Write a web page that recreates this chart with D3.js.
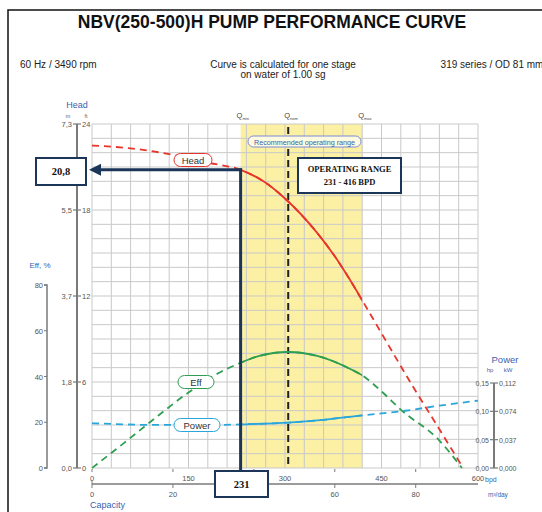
<!DOCTYPE html>
<html>
<head>
<meta charset="utf-8">
<title>NBV(250-500)H pump curve</title>
<script src="https://cdn.jsdelivr.net/npm/d3@7"></script>
<style>
  body { margin: 0; background: #fff; }
  text { font-family: "Liberation Sans", Arial, sans-serif; }
  text.serif { font-family: "Liberation Serif", "DejaVu Serif", serif; }
</style>
</head>
<body>
<svg id="chart"></svg>
<script>
// capacity in bpd, head in ft, efficiency in %, power in hp
const headQ   = [0, 60, 120, 180, 231, 270, 300, 350, 380, 400, 420, 450, 500, 540, 577]
const headFt  = [22.5, 22.3, 21.9, 21.3, 20.8, 19.9, 18.8, 16.4, 14.6, 13.2, 11.7, 9.4, 5.6, 2.7, 0]
const effQ    = [0, 50, 90, 150, 200, 231, 260, 305, 350, 400, 420, 450, 480, 540, 575]
const effPct  = [0, 11, 20, 33, 42, 46, 49, 50.7, 49, 43.5, 40.5, 33.5, 25.5, 12, 0]
const powQ    = [0, 100, 200, 231, 305, 360, 421, 480, 540, 600]
const powHp   = [0.079, 0.076, 0.076, 0.077, 0.080, 0.085, 0.093, 0.100, 0.110, 0.119]

const qMin = 231, qNom = 305, qMax = 420
const bpdTicks = [0, 150, 300, 450, 600]
const m3Ticks = [0, 20, 40, 60, 80]
const ftTicks = [0, 6, 12, 18, 24]
const mLabels = ["0,0", "1,8", "3,7", "5,5", "7,3"]
const effTicks = [0, 20, 40, 60, 80]
const hpTicks = [0, 0.05, 0.10, 0.15]
const hpLabels = ["0,00", "0,05", "0,10", "0,15"]
const kwLabels = ["0,000", "0,037", "0,074", "0,112"]
const pickHead = 20.8

const W = 542, H = 512
const svg = d3.select("#chart").attr("width", W).attr("height", H)

const x = d3.scaleLinear().domain([0, 600]).range([92, 478])
const xm = d3.scaleLinear().domain([0, 600 / 6.2898]).range([92, 478])
const yFt = d3.scaleLinear().domain([0, 24]).range([468, 124])
const yEff = d3.scaleLinear().domain([0, 80]).range([468, 285])
const yPow = d3.scaleLinear().domain([0, 0.15]).range([468, 383])

const RED = "#e8352b", GREEN = "#2f9e52", BLUE = "#2ba6dc", NAVY = "#1b3658", GREY = "#7a7a7a"
const LBLUE = "#3a5fb0"

// frame
svg.append("path").attr("d", "M8,512 V10 H542").attr("fill", "none").attr("stroke", "#111").attr("stroke-width", 1.5)

// titles
svg.append("text").attr("x", 272).attr("y", 28).attr("text-anchor", "middle")
  .attr("font-size", 17.5).attr("font-weight", "bold").attr("fill", "#111")
  .text("NBV(250-500)H PUMP PERFORMANCE CURVE")
svg.append("text").attr("x", 20).attr("y", 68).attr("font-size", 10).attr("fill", "#222").text("60 Hz / 3490 rpm")
svg.append("text").attr("x", 492).attr("y", 68).attr("text-anchor", "middle").attr("font-size", 10).attr("fill", "#222").text("319 series / OD 81 mm")
svg.append("text").attr("x", 283).attr("y", 68).attr("text-anchor", "middle").attr("font-size", 10).attr("fill", "#222").text("Curve is calculated for one stage")
svg.append("text").attr("x", 283).attr("y", 78).attr("text-anchor", "middle").attr("font-size", 10).attr("fill", "#222").text("on water of 1.00 sg")

// recommended range band
svg.append("rect").attr("x", x(qMin)).attr("y", yFt(24)).attr("width", x(qMax) - x(qMin))
  .attr("height", yFt(0) - yFt(24)).attr("fill", "#fbf0a4")

// grid
const grid = svg.append("g").attr("stroke", "#c9c9c9").attr("stroke-width", 1)
grid.selectAll("line.v").data(d3.range(0, 601, 30)).enter().append("line")
  .attr("x1", d => x(d)).attr("x2", d => x(d)).attr("y1", yFt(24)).attr("y2", yFt(0))
grid.selectAll("line.h").data(d3.range(0, 25, 1)).enter().append("line")
  .attr("x1", x(0)).attr("x2", x(600)).attr("y1", d => yFt(d)).attr("y2", d => yFt(d))

// Q labels
const qs = [[qMin, "min"], [qNom, "nom"], [qMax, "max"]]
qs.forEach(([q, sub]) => {
  const t = svg.append("text").attr("x", x(q) - 4).attr("y", 118).attr("font-size", 7.5).attr("fill", "#444")
  t.append("tspan").text("Q")
  t.append("tspan").attr("font-size", 4).attr("dy", 1.5).text(sub)
})

// nominal flow dashed line
svg.append("line").attr("x1", x(qNom)).attr("x2", x(qNom)).attr("y1", 127).attr("y2", yFt(0))
  .attr("stroke", "#222").attr("stroke-width", 2).attr("stroke-dasharray", "7,4")

// recommended operating range label
svg.append("rect").attr("x", 248).attr("y", 136).attr("width", 113).attr("height", 11).attr("rx", 5.5)
  .attr("fill", "#fffbe0").attr("stroke", "#7d8ad8").attr("stroke-width", 1)
svg.append("text").attr("x", 304.5).attr("y", 144.5).attr("text-anchor", "middle").attr("font-size", 7.2)
  .attr("fill", LBLUE).text("Recommended operating range")

// curves: dashed everywhere, solid inside the range
const clip = svg.append("clipPath").attr("id", "range")
clip.append("rect").attr("x", x(qMin)).attr("y", 0).attr("width", x(qMax) - x(qMin)).attr("height", H)

function curve(qArr, vArr, yScale, color) {
  const pts = qArr.map((q, i) => [x(q), yScale(vArr[i])])
  const line = d3.line().curve(d3.curveMonotoneX)
  svg.append("path").attr("d", line(pts)).attr("fill", "none").attr("stroke", color)
    .attr("stroke-width", 1.8).attr("stroke-dasharray", "7,5")
  svg.append("path").attr("d", line(pts)).attr("fill", "none").attr("stroke", color)
    .attr("stroke-width", 1.8).attr("clip-path", "url(#range)")
}
curve(powQ, powHp, yPow, BLUE)
curve(effQ, effPct, yEff, GREEN)
curve(headQ, headFt, yFt, RED)

// curve labels
function tag(cx, cy, w, label, color) {
  svg.append("rect").attr("x", cx - w / 2).attr("y", cy - 6.5).attr("width", w).attr("height", 13).attr("rx", 6.5)
    .attr("fill", "#fff").attr("stroke", color).attr("stroke-width", 1)
  svg.append("text").attr("x", cx).attr("y", cy + 3.5).attr("text-anchor", "middle").attr("font-size", 9.5)
    .attr("fill", "#333").text(label)
}
tag(193, 160, 38, "Head", RED)
tag(196, 382, 36, "Eff", GREEN)
tag(197, 425, 46, "Power", BLUE)

// head axis (m / ft)
const ax = 77
svg.append("line").attr("x1", ax).attr("x2", ax).attr("y1", yFt(24)).attr("y2", yFt(0)).attr("stroke", GREY).attr("stroke-width", 2)
ftTicks.forEach((t, i) => {
  svg.append("line").attr("x1", ax - 4).attr("x2", ax + 4).attr("y1", yFt(t)).attr("y2", yFt(t)).attr("stroke", GREY).attr("stroke-width", 1.2)
  svg.append("text").attr("x", ax - 5).attr("y", yFt(t) + 3).attr("text-anchor", "end").attr("font-size", 7.5).attr("fill", "#555").text(mLabels[i])
  svg.append("text").attr("x", ax + 5).attr("y", yFt(t) + 3).attr("font-size", 7.5).attr("fill", "#555").text(t)
})
svg.append("text").attr("x", ax).attr("y", 108).attr("text-anchor", "middle").attr("font-size", 9).attr("fill", LBLUE).text("Head")
svg.append("text").attr("x", ax - 9).attr("y", 118).attr("text-anchor", "middle").attr("font-size", 5.5).attr("fill", "#666").text("m")
svg.append("text").attr("x", ax + 9).attr("y", 118).attr("text-anchor", "middle").attr("font-size", 5.5).attr("fill", "#666").text("ft")

// efficiency axis
const ex = 47
svg.append("path").attr("d", `M${ex - 3},${yEff(80)} H${ex} V${yEff(0)} H${ex - 3}`)
  .attr("fill", "none").attr("stroke", GREY).attr("stroke-width", 1.5)
effTicks.forEach(t => {
  svg.append("line").attr("x1", ex - 3).attr("x2", ex).attr("y1", yEff(t)).attr("y2", yEff(t)).attr("stroke", GREY)
  svg.append("text").attr("x", ex - 4).attr("y", yEff(t) + 3).attr("text-anchor", "end").attr("font-size", 7.5).attr("fill", "#555").text(t)
})
svg.append("text").attr("x", 40).attr("y", 268).attr("text-anchor", "middle").attr("font-size", 8).attr("fill", LBLUE).text("Eff, %")

// power axis
const px = 494
svg.append("line").attr("x1", px).attr("x2", px).attr("y1", yPow(0.15)).attr("y2", yPow(0)).attr("stroke", GREY).attr("stroke-width", 2)
hpTicks.forEach((t, i) => {
  svg.append("line").attr("x1", px - 4).attr("x2", px + 4).attr("y1", yPow(t)).attr("y2", yPow(t)).attr("stroke", GREY).attr("stroke-width", 1.2)
  svg.append("text").attr("x", px - 5).attr("y", yPow(t) + 3).attr("text-anchor", "end").attr("font-size", 7).attr("fill", "#555").text(hpLabels[i])
  svg.append("text").attr("x", px + 5).attr("y", yPow(t) + 3).attr("font-size", 7).attr("fill", "#555").text(kwLabels[i])
})
svg.append("text").attr("x", 505).attr("y", 363).attr("text-anchor", "middle").attr("font-size", 9.5).attr("fill", LBLUE).text("Power")
svg.append("text").attr("x", 490).attr("y", 372).attr("text-anchor", "middle").attr("font-size", 6).attr("fill", LBLUE).text("hp")
svg.append("text").attr("x", 508).attr("y", 372).attr("text-anchor", "middle").attr("font-size", 6).attr("fill", LBLUE).text("kW")

// capacity axes
m3Ticks.forEach(t => {
  svg.append("line").attr("x1", xm(t)).attr("x2", xm(t)).attr("y1", 469).attr("y2", 472).attr("stroke", GREY)
})
bpdTicks.forEach(t => {
  svg.append("text").attr("x", x(t)).attr("y", 481).attr("text-anchor", "middle").attr("font-size", 7.5).attr("fill", "#555").text(t)
})
svg.append("text").attr("x", 485).attr("y", 482).attr("font-size", 7).attr("fill", LBLUE).text("bpd")
svg.append("line").attr("x1", x(0)).attr("x2", x(600)).attr("y1", 484).attr("y2", 484).attr("stroke", GREY).attr("stroke-width", 1.5)
m3Ticks.forEach(t => {
  svg.append("line").attr("x1", xm(t)).attr("x2", xm(t)).attr("y1", t === 0 ? 481 : 484).attr("y2", 488).attr("stroke", GREY)
  svg.append("text").attr("x", xm(t)).attr("y", 497).attr("text-anchor", "middle").attr("font-size", 7.5).attr("fill", "#555").text(t)
})
svg.append("text").attr("x", 488).attr("y", 497).attr("font-size", 6.5).attr("fill", LBLUE).text("m³/day")
svg.append("text").attr("x", 90).attr("y", 508).attr("font-size", 9).attr("fill", LBLUE).text("Capacity")

// operating point annotation
const px0 = x(qMin), py0 = yFt(pickHead)
svg.append("line").attr("x1", px0).attr("x2", px0).attr("y1", py0 - 1.5).attr("y2", 472).attr("stroke", NAVY).attr("stroke-width", 3)
svg.append("line").attr("x1", px0 + 1.5).attr("x2", 100).attr("y1", py0).attr("y2", py0).attr("stroke", NAVY).attr("stroke-width", 3)
svg.append("path").attr("d", `M89,${py0} L101,${py0 - 6} L101,${py0 + 6} Z`).attr("fill", NAVY)

function box(bx, by, bw, bh, lines, fs) {
  svg.append("rect").attr("x", bx).attr("y", by).attr("width", bw).attr("height", bh)
    .attr("fill", "#fff").attr("stroke", NAVY).attr("stroke-width", 2)
  lines.forEach((s, i) => {
    svg.append("text").attr("class", "serif").attr("x", bx + bw / 2)
      .attr("y", by + bh / 2 + fs * 0.35 + (i - (lines.length - 1) / 2) * fs * 1.6)
      .attr("text-anchor", "middle").attr("font-weight", "bold")
      .attr("font-size", fs).attr("fill", "#111").text(s)
  })
}
box(36, 158, 50, 27, ["20,8"], 10.5)
box(215, 471, 53, 26, ["231"], 10.5)
box(298, 158, 103, 35, ["OPERATING RANGE", "231 - 416 BPD"], 8.5)
</script>
</body>
</html>
